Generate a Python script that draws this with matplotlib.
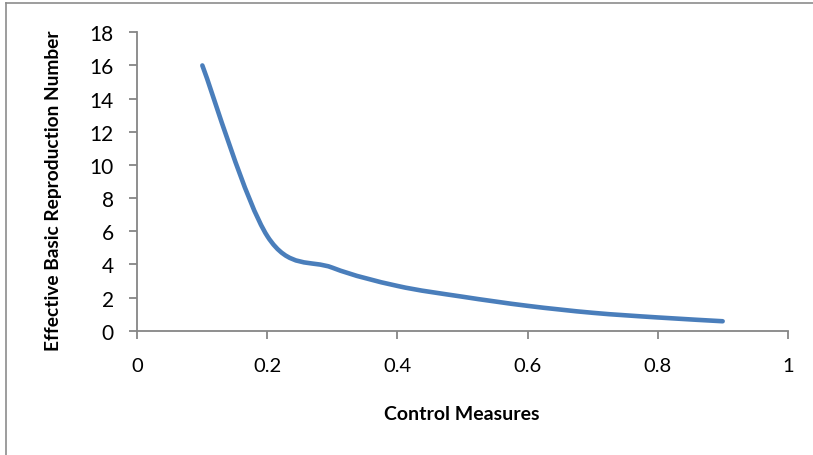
import matplotlib.pyplot as plt
from matplotlib.path import Path
from matplotlib.patches import PathPatch
from matplotlib.lines import Line2D

plt.rcParams['font.family'] = ['Lato', 'DejaVu Sans']

# data
control = [0.1, 0.2, 0.3, 0.4, 0.5, 0.6, 0.7, 0.8, 0.9]
r_eff = [16.0, 5.7, 3.8, 2.7, 2.05, 1.5, 1.08, 0.8, 0.57]
x_ticks = [0, 0.2, 0.4, 0.6, 0.8, 1]
y_ticks = [0, 2, 4, 6, 8, 10, 12, 14, 16, 18]

fig = plt.figure(figsize=(8.13, 4.56), dpi=100)
ax = fig.add_axes([137.3 / 813, 1 - 331.7 / 456, 650.4 / 813, 298.4 / 456])

# smoothed line like excel (bezier segments through the data points)
pts = list(zip(control, r_eff))
verts = [pts[0]]
codes = [Path.MOVETO]
n = len(pts)
for i in range(n - 1):
    p0 = pts[i - 1] if i > 0 else pts[i]
    p1 = pts[i]
    p2 = pts[i + 1]
    p3 = pts[i + 2] if i + 2 < n else pts[i + 1]
    c1 = (p1[0] + (p2[0] - p0[0]) / 6, p1[1] + (p2[1] - p0[1]) / 6)
    c2 = (p2[0] - (p3[0] - p1[0]) / 6, p2[1] - (p3[1] - p1[1]) / 6)
    verts += [c1, c2, p2]
    codes += [Path.CURVE4] * 3
ax.add_patch(PathPatch(Path(verts, codes), facecolor='none', edgecolor='#4A7EBB',
                       lw=3.3, capstyle='round', joinstyle='round'))

ax.set_xlim(0, 1)
ax.set_ylim(0, 18)
ax.set_xticks(x_ticks)
ax.set_xticklabels(['0', '0.2', '0.4', '0.6', '0.8', '1'])
ax.set_yticks(y_ticks)
for s in ['top', 'right']:
    ax.spines[s].set_visible(False)
for s in ['left', 'bottom']:
    ax.spines[s].set_color('#868686')
    ax.spines[s].set_linewidth(1.3)
ax.tick_params(axis='both', color='#868686', width=1.3, length=6, direction='out')
ax.tick_params(axis='y', labelsize=15, pad=11)
ax.tick_params(axis='x', labelsize=14.5, pad=13)

ax.set_xlabel('Control Measures', fontsize=14, fontweight='bold')
ax.set_ylabel('Effective Basic Reproduction Number', fontsize=13.8, fontweight='bold')
ax.xaxis.set_label_coords(0.499, -0.279)
ax.yaxis.set_label_coords(-0.1296, 0.4715)
ax.xaxis.label.set_va('center')
ax.yaxis.label.set_va('center')

# chart area border (top and left visible)
fig.add_artist(Line2D([6 / 813, 1], [1 - 4 / 456, 1 - 4 / 456], color='#8c8c8c', lw=1.2))
fig.add_artist(Line2D([6 / 813, 6 / 813], [0, 1 - 4 / 456], color='#8c8c8c', lw=1.2))

fig.savefig('out.png', dpi=100)
